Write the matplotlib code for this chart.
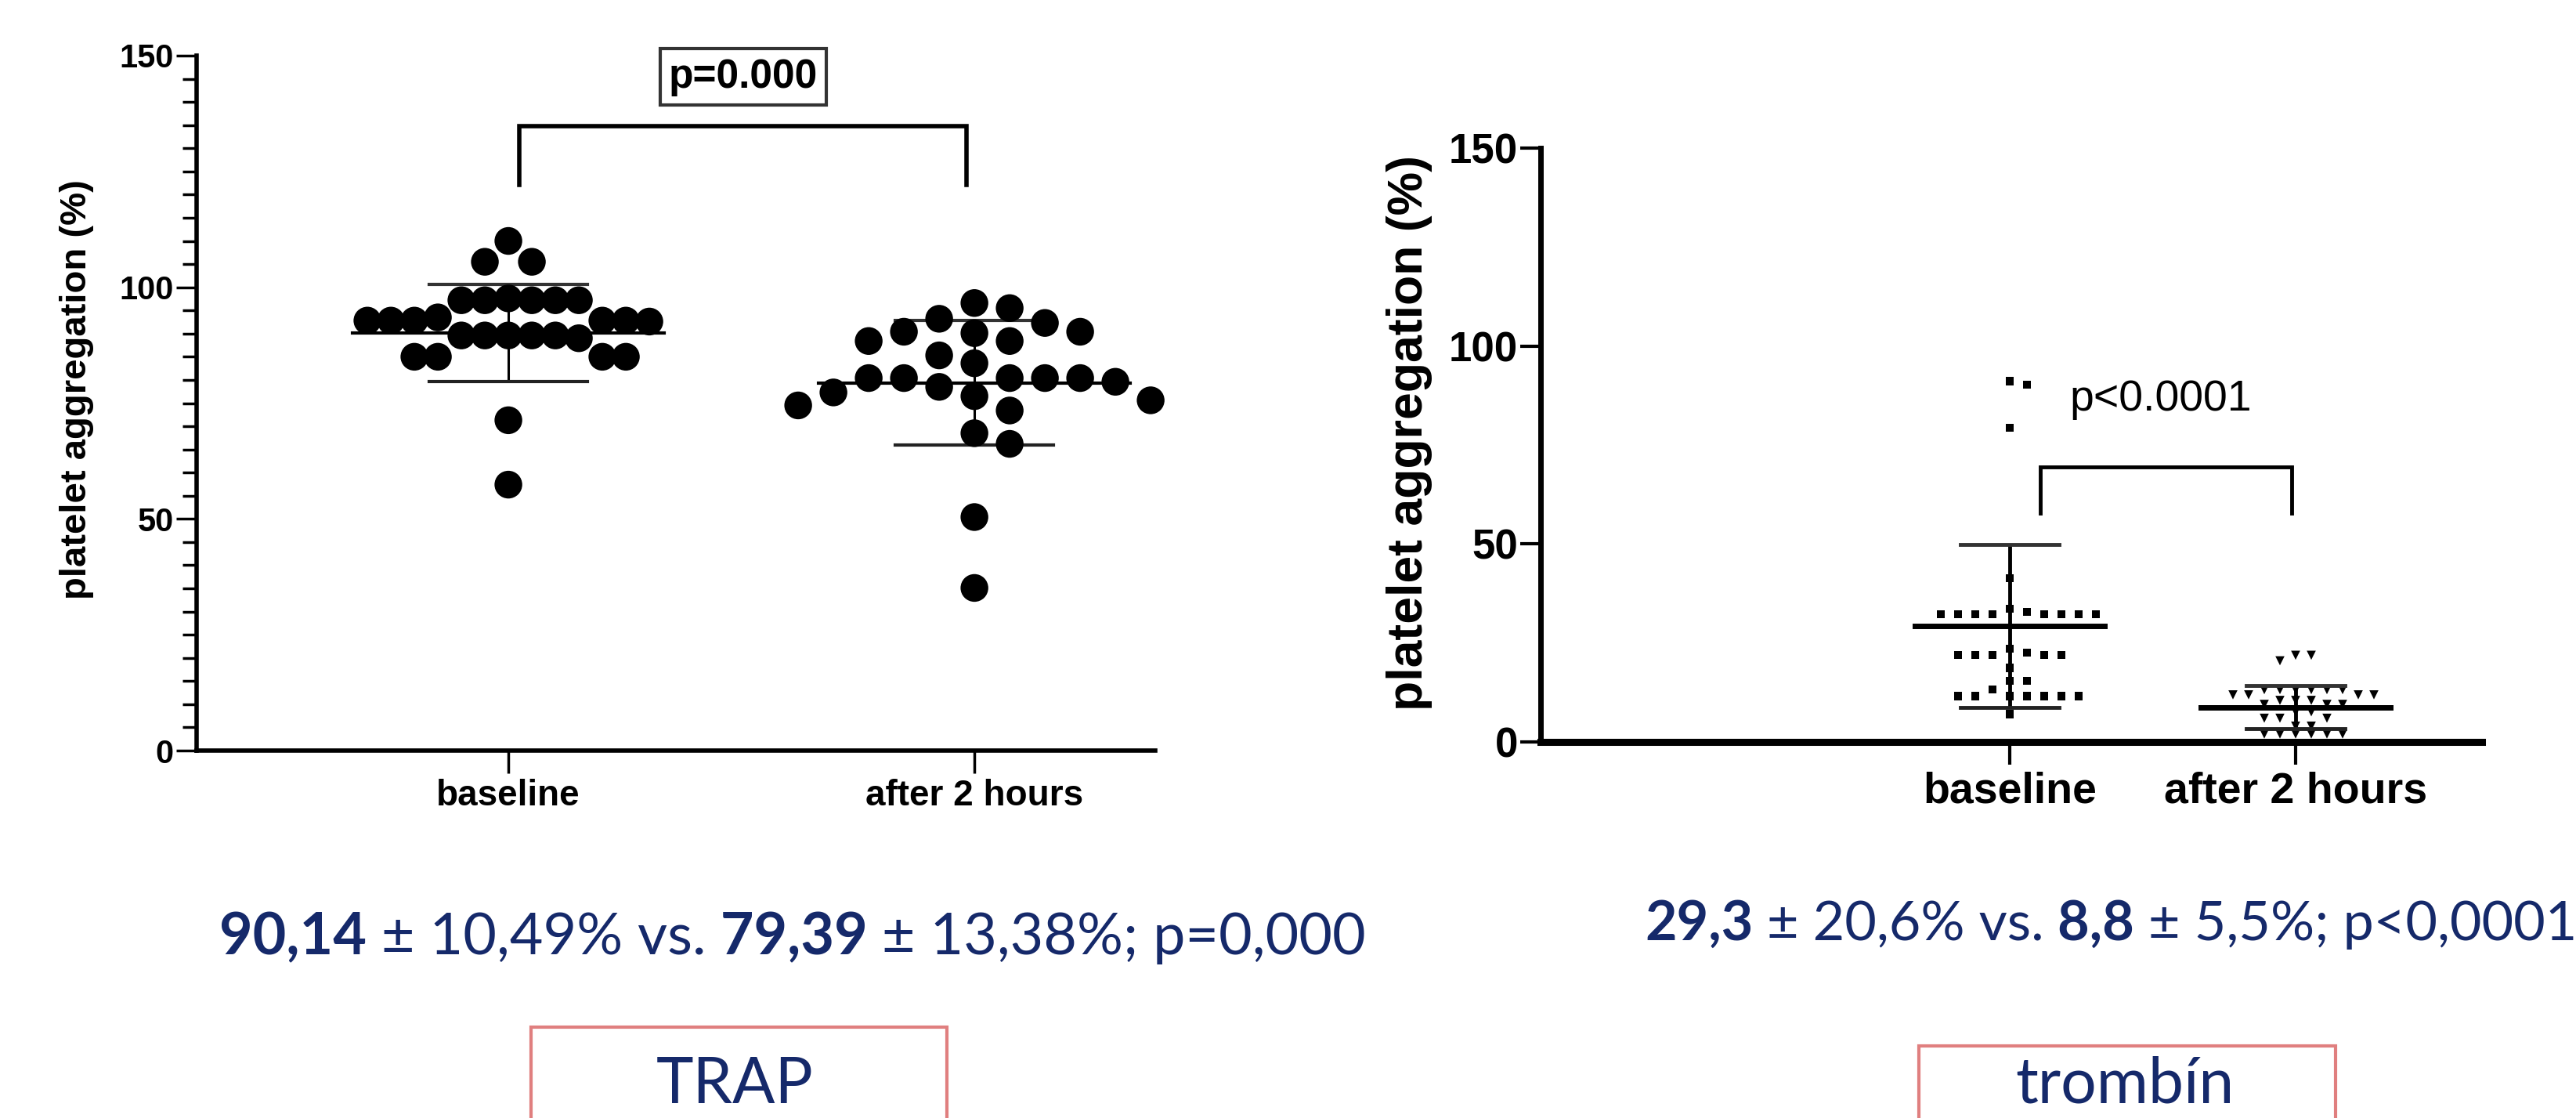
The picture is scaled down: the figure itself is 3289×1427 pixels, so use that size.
import numpy as np
import matplotlib
matplotlib.use("Agg")
import matplotlib.pyplot as plt
from matplotlib.ticker import MultipleLocator
from matplotlib.patches import Rectangle

# data
groups = ["baseline", "after 2 hours"]

trap_baseline = [110, 105.5, 105.5, 97.6, 97.2, 97.2, 97.2, 97.2, 97.2,
                 93.5, 92.8, 92.8, 92.8, 92.8, 92.6, 92.8,
                 89.6, 89.6, 89.6, 89.6, 89.6, 89.0,
                 85, 85, 85, 85, 71.3, 57.4]
trap_after = [96.6, 95.5, 93.2, 92.3, 90.4, 90.4, 90.1, 88.4, 88.4, 85.3, 83.6,
              80.4, 80.4, 80.4, 80.4, 80.4, 79.6, 78.5, 77.3, 76.5, 75.6,
              74.5, 73.4, 68.5, 66.2, 50.4, 35.1]
trap_mean = [90.14, 79.39]
trap_sd = [10.49, 13.38]

trombin_baseline = [91.1, 90.3, 79.3, 41.4, 33.6, 32.9,
                    32.2, 32.2, 32.2, 32.2, 32.2, 32.2, 32.2, 32.2,
                    23.6, 22.6, 21.9, 21.9, 21.9, 21.9, 21.9, 18.7,
                    15.5, 15.5, 13.3,
                    11.6, 11.6, 11.6, 11.6, 11.6, 11.6, 11.6, 7.0]
trombin_after = [21.9, 21.9, 20.5,
                 13.2, 13.2, 13.2, 13.2, 13.2, 13.2,
                 11.9, 11.9, 11.9, 11.9,
                 10.5, 10.5, 10.5, 9.5, 9.5, 9.5,
                 7.6, 7.6, 6.0, 6.0, 6.0, 4.0, 4.0,
                 2.0, 2.0, 2.0, 2.0, 2.0, 2.0]
trombin_mean = [29.3, 8.8]
trombin_sd = [20.6, 5.5]

left_stats = [("90,14", "bold"), (" \u00b1 10,49% vs.", "normal"),
              (" 79,39", "bold"), (" \u00b1 13,38%; p=0,000", "normal")]
right_stats = [("29,3", "bold"), (" \u00b1 20,6% vs.", "normal"),
               (" 8,8", "bold"), (" \u00b1 5,5%; p<0,0001", "normal")]

NAVY = "#15296a"
BOXRED = "#e07f7f"

plt.rcParams["font.family"] = ["Liberation Sans", "DejaVu Sans"]
plt.rcParams["font.weight"] = "bold"

W, H = 3289, 1427
fig = plt.figure(figsize=(W / 100, H / 100), dpi=100)


def fx(px):
    return px / W


def fy(py):
    return 1 - py / H


def swarm(ax, xc, vals, col_px, gap_px):
    # simple column beeswarm done in pixel space
    pts = ax.transData.transform(np.column_stack([np.full(len(vals), xc), vals]))
    unit = ax.transData.transform([(1, 0)])[0, 0] - ax.transData.transform([(0, 0)])[0, 0]
    cols = {}
    xs = []
    for y in pts[:, 1]:
        step = 0
        while True:
            for c in ([0] if step == 0 else [step, -step]):
                if all(abs(y - o) >= gap_px for o in cols.get(c, [])):
                    break
            else:
                step += 1
                continue
            break
        cols.setdefault(c, []).append(y)
        xs.append(xc + c * col_px / unit)
    return np.array(xs)


def mean_sd(ax, x, m, s, cap, half, lw_cap, lw_mean, lw_v, z):
    ax.plot([x, x], [m - s, m + s], color="black", lw=lw_v, zorder=z, solid_capstyle="butt")
    ax.plot([x - cap, x + cap], [m + s, m + s], color="#333333", lw=lw_cap, zorder=z)
    ax.plot([x - cap, x + cap], [m - s, m - s], color="#222222", lw=lw_cap, zorder=z)
    ax.plot([x - half, x + half], [m, m], color="black", lw=lw_mean, zorder=z)


def style_axes(ax, lw_y, lw_x):
    for side in ["top", "right"]:
        ax.spines[side].set_visible(False)
    ax.spines["left"].set_linewidth(lw_y)
    ax.spines["bottom"].set_linewidth(lw_x)
    ax.set_ylim(0, 150)
    ax.set_yticks([0, 50, 100, 150])
    ax.set_xticks([0, 1])
    ax.set_xticklabels(groups)


# ---------------- left panel (TRAP)
ax1 = fig.add_axes([fx(251), fy(958), fx(1475 - 251), (958 - 71) / H])
ax1.set_xlim(-0.669, 1.388)
style_axes(ax1, 4, 4)
ax1.yaxis.set_minor_locator(MultipleLocator(5))
ax1.tick_params(axis="y", which="major", length=19, width=2.5, labelsize=30, pad=2)
ax1.tick_params(axis="y", which="minor", length=13, width=2.5)
ax1.tick_params(axis="x", length=21, width=2.5, labelsize=33, pad=5)
ax1.set_ylabel("platelet aggregation (%)", fontsize=34, fontweight="bold", va="center")
ax1.yaxis.set_label_coords(-0.125, 0.52)

for i, vals in enumerate([trap_baseline, trap_after]):
    mean_sd(ax1, i, trap_mean[i], trap_sd[i], 0.17, 0.334, 3, 3, 2.2, 2)
col_px = [30, 45]
for i, vals in enumerate([trap_baseline, trap_after]):
    xs = swarm(ax1, i, vals, col_px[i], 38)
    ax1.scatter(xs, vals, s=650, color="black", edgecolors="none", zorder=3, clip_on=False)

ax1.plot([0.024, 0.024, 0.983, 0.983], [122.1, 134.8, 134.8, 122.1], color="black",
         lw=4, clip_on=False, solid_joinstyle="miter")
ax1.text(0.504, 145.4, "p=0.000", fontsize=37, ha="center", va="center",
         bbox=dict(boxstyle="square,pad=0.22", fc="white", ec="#333333", lw=3), clip_on=False)

# ---------------- right panel (trombin)
ax2 = fig.add_axes([fx(1967), fy(947), fx(3169 - 1967), (947 - 189) / H])
ax2.set_xlim(-1.641, 1.652)
style_axes(ax2, 5, 6.5)
ax2.tick_params(axis="y", length=19, width=3, labelsize=38, pad=2)
ax2.tick_params(axis="x", length=21, width=3, labelsize=40, pad=6)
ax2.set_ylabel("platelet aggregation (%)", fontsize=45, fontweight="bold", va="center")
ax2.yaxis.set_label_coords(-0.139, 0.521)

xb = swarm(ax2, 0, trombin_baseline, 22, 12)
ax2.scatter(xb, trombin_baseline, s=55, marker="s", color="black", edgecolors="none", zorder=3)
xa = swarm(ax2, 1, trombin_after, 20, 10)
ax2.scatter(xa, trombin_after, s=70, marker="v", color="black", edgecolors="none", zorder=3)
for i in range(2):
    mean_sd(ax2, i, trombin_mean[i], trombin_sd[i], 0.173, 0.332, 3.5, 5, 3.5, 4)

ax2.plot([0.107, 0.107, 0.986, 0.986], [57.7, 69.5, 69.5, 57.7], color="black",
         lw=3.5, solid_joinstyle="miter")
ax2.text(0.208, 83.8, "p<0.0001", fontsize=40, fontweight="normal", ha="left", va="baseline")


# ---------------- bottom texts
def rich_text(x, y, parts, size):
    t = fig.text(x, y, parts[0][0], fontsize=size, fontweight=parts[0][1],
                 family="Lato", color=NAVY, va="baseline")
    for s, w in parts[1:]:
        t = ax1.annotate(s, xy=(1, 0), xycoords=t, va="bottom", fontsize=size,
                         fontweight=w, family="Lato", color=NAVY, annotation_clip=False)
    return t


rich_text(fx(280), fy(1218), left_stats, 53)
rich_text(fx(2100), fy(1200), right_stats, 50.5)

fig.add_artist(Rectangle((fx(678), -0.05), fx(1209 - 678), fy(1311) + 0.05,
                         transform=fig.transFigure, fill=False, ec=BOXRED, lw=3))
fig.text(fx(938), fy(1408), "TRAP", fontsize=58, fontweight="normal", family="Lato",
         color=NAVY, ha="center", va="baseline")
fig.add_artist(Rectangle((fx(2450), -0.05), fx(2982 - 2450), fy(1335) + 0.05,
                         transform=fig.transFigure, fill=False, ec=BOXRED, lw=3))
fig.text(fx(2713), fy(1408), "tromb\u00edn", fontsize=58, fontweight="normal", family="Lato",
         color=NAVY, ha="center", va="baseline")

fig.savefig("out.png", dpi=100, facecolor="white")
